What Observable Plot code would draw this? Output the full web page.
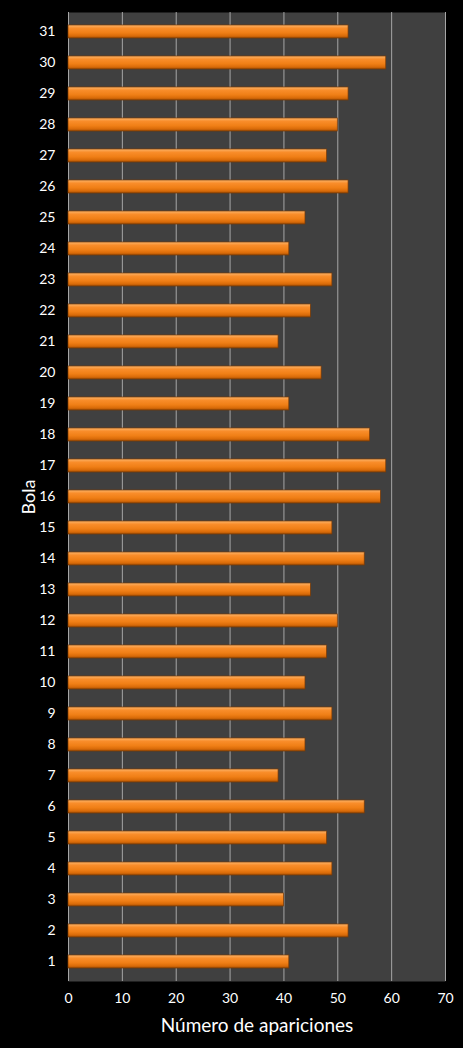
<!DOCTYPE html>
<html>
<head>
<meta charset="utf-8">
<script src="https://cdn.jsdelivr.net/npm/d3@7"></script>
<script src="https://cdn.jsdelivr.net/npm/@observablehq/plot@0.6"></script>
<style>
  html, body { margin: 0; padding: 0; background: #000; }
  #plot-region svg { display: block; }
</style>
</head>
<body>
<div id="plot-region"></div>
<script>
const BOLAS = d3.range(1, 32).map(String);
const APARICIONES = [41, 52, 40, 49, 48, 55, 39, 44, 49, 44, 48, 50, 45, 55, 49,
                     58, 59, 56, 41, 47, 39, 45, 49, 41, 44, 52, 48, 50, 52, 59, 52];
const X_TICKS = [0, 10, 20, 30, 40, 50, 60, 70];

const FONT = "Lato, 'Open Sans', sans-serif";

let data = BOLAS.map((b, i) => ({ bola: b, n: APARICIONES[i] }));

let chart = Plot.plot({
    width: 463,
    height: 1048,
    marginLeft: 68,
    marginRight: 18,
    marginTop: 12,
    marginBottom: 67,
    style: { background: "#000", color: "#fff", fontFamily: FONT },
    x: { domain: [0, 70], ticks: X_TICKS },
    y: { domain: BOLAS.slice().reverse(), paddingInner: 0.58, paddingOuter: 0.29, align: 0.5 },
    marks: [
        Plot.frame({ fill: "#404040" }),
        Plot.gridX(X_TICKS, { stroke: "#a6a6a6", strokeOpacity: 1, strokeWidth: 1 }),
        Plot.barX(data, { x: "n", y: "bola", fill: "url(#barGrad)", stroke: "#7a3a05", strokeWidth: 0.7 }),
        Plot.axisX({ ticks: X_TICKS, tickSize: 0, tickPadding: 12, fontSize: 14, fill: "#fff",
                     label: "Número de apariciones", labelAnchor: "center", labelOffset: 50,
                     line: true, stroke: "#a6a6a6" }),
        Plot.axisY({ tickSize: 0, tickPadding: 13, fontSize: 14, fill: "#fff",
                     label: "Bola", labelAnchor: "center", labelOffset: 46 })
    ]
});

// orange bevel gradient for the bars
const defs = d3.select(chart).insert("defs", ":first-child");
const grad = defs.append("linearGradient")
    .attr("id", "barGrad").attr("x1", 0).attr("y1", 0).attr("x2", 0).attr("y2", 1);
[["0%", "#fbb46a"], ["25%", "#f98d2a"], ["60%", "#f07f16"], ["85%", "#d86a08"], ["100%", "#9c4c06"]]
    .forEach(([o, c]) => grad.append("stop").attr("offset", o).attr("stop-color", c));

// axis titles: bigger, no arrow
chart.querySelectorAll("text").forEach(t => {
    if (/Número|Bola/.test(t.textContent)) {
        t.textContent = t.textContent.replace(/[\s]*[→↑←↓]/g, "");
        let size = /Número/.test(t.textContent) ? 19 : 18;
        t.setAttribute("font-size", size);
        t.style.fontSize = size + "px";
    }
});

document.getElementById("plot-region").append(chart);
</script>
</body>
</html>
